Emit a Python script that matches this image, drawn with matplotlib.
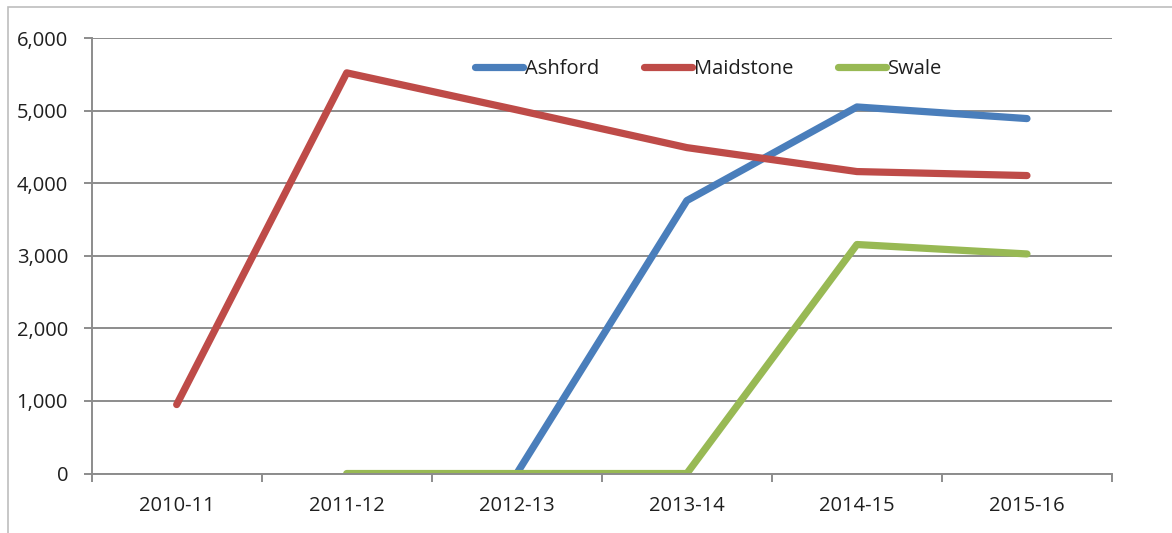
import numpy as np
import matplotlib
matplotlib.use("Agg")
import matplotlib.pyplot as plt
from matplotlib.patches import Rectangle

# dados
anos = ["2010-11", "2011-12", "2012-13", "2013-14", "2014-15", "2015-16"]
ashford = [np.nan, np.nan, 0, 3760, 5050, 4890]
maidstone = [950, 5520, 5010, 4490, 4160, 4105]
swale = [np.nan, 0, 0, 0, 3155, 3025]

plt.rcParams["font.family"] = ["Open Sans", "DejaVu Sans"]

fig = plt.figure(figsize=(11.72, 5.33), dpi=100)
ax = fig.add_axes([0.0782, 0.1116, 0.8706, 0.8171])

# moldura externa do gráfico (cortada à direita e embaixo)
fig.patches.append(Rectangle((8 / 1172, -0.1), 1.2, (533 - 7) / 533 + 0.1,
                             transform=fig.transFigure, fill=False,
                             edgecolor="#BDBDBD", linewidth=1.2))

x = np.arange(len(anos))
ax.plot(x, ashford, color="#4A7EBB", linewidth=5.2, solid_capstyle="round",
        solid_joinstyle="round", label="Ashford")
ax.plot(x, maidstone, color="#BE4B48", linewidth=5.2, solid_capstyle="round",
        solid_joinstyle="round", label="Maidstone")
ax.plot(x, swale, color="#98B954", linewidth=5.2, solid_capstyle="round",
        solid_joinstyle="round", label="Swale")

ax.set_xlim(-0.5, len(anos) - 0.5)
ax.set_ylim(0, 6000)
ax.set_yticks(range(0, 6001, 1000))
ax.set_yticklabels([f"{v:,}" for v in range(0, 6001, 1000)])
ax.set_xticks(x)
ax.set_xticklabels(anos)
ax.set_xticks(np.arange(-0.5, len(anos)), minor=True)

ax.grid(axis="y", color="#8C8C8C", linewidth=1.4)
ax.set_axisbelow(True)
for lado in ["top", "right"]:
    ax.spines[lado].set_visible(False)
ax.spines["left"].set_color("#8C8C8C")
ax.spines["bottom"].set_color("#8C8C8C")
ax.spines["left"].set_linewidth(1.4)
ax.spines["bottom"].set_linewidth(1.4)

ax.tick_params(axis="y", length=6, width=1.4, color="#8C8C8C", pad=11,
               labelsize=14.5, labelcolor="#1F1F1F")
ax.tick_params(axis="x", which="major", length=0, pad=16,
               labelsize=14.5, labelcolor="#1F1F1F")
ax.tick_params(axis="x", which="minor", length=6, width=1.4, color="#8C8C8C")

fig.legend(loc="center left", bbox_to_anchor=(475 / 1172, (533 - 69) / 533),
           ncol=3, frameon=False, fontsize=14.5, handlelength=2.4,
           handletextpad=0.1, columnspacing=2.2, borderpad=0,
           borderaxespad=0, labelcolor="#1F1F1F")

plt.savefig("out.png", dpi=100)
